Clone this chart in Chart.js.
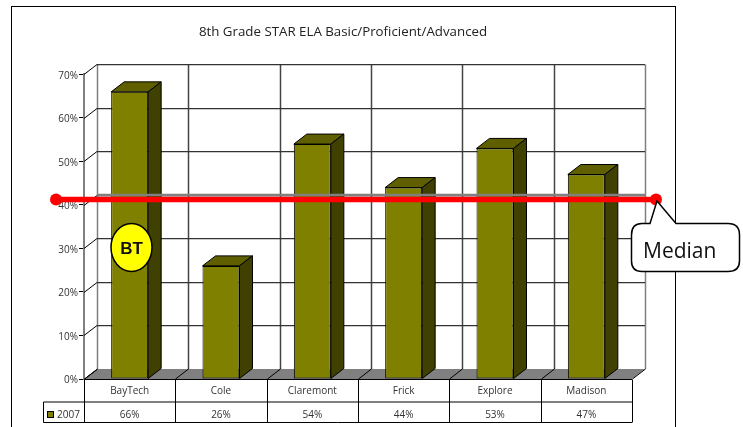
<!DOCTYPE html>
<html>
<head>
<meta charset="utf-8">
<title>8th Grade STAR ELA</title>
<script src="https://cdn.jsdelivr.net/npm/chart.js@4"></script>
<style>
  html, body { margin: 0; padding: 0; background: #ffffff; }
  canvas { display: block; }
</style>
</head>
<body>
<canvas id="starChart" width="743" height="427"></canvas>
<script>
const categories = ['BayTech', 'Cole', 'Claremont', 'Frick', 'Explore', 'Madison']
const seriesName = '2007'
const scores = [66, 26, 54, 44, 53, 47]
const yTicks = [0, 10, 20, 30, 40, 50, 60, 70]
const medianValue = 41.4
const chartTitle = '8th Grade STAR ELA Basic/Proficient/Advanced'
const font = '"Open Sans", sans-serif'

// how far the back wall sits behind the front plane
const depthX = 13
const depthY = 10

function line(ctx, x1, y1, x2, y2, color, width) {
    ctx.strokeStyle = color
    ctx.lineWidth = width
    ctx.beginPath()
    ctx.moveTo(x1, y1)
    ctx.lineTo(x2, y2)
    ctx.stroke()
}

function poly(ctx, points, fill, stroke) {
    ctx.beginPath()
    points.forEach((p, i) => i ? ctx.lineTo(p[0], p[1]) : ctx.moveTo(p[0], p[1]))
    ctx.closePath()
    ctx.fillStyle = fill
    ctx.fill()
    if (stroke) {
        ctx.strokeStyle = stroke
        ctx.lineWidth = 1
        ctx.stroke()
    }
}

// category boundaries on the front plane
function boundaries(chart) {
    const area = chart.chartArea
    const step = (area.right - area.left) / categories.length
    return categories.map((c, i) => area.left + step * i).concat(area.right)
}

const framePlugin = {
    id: 'frame',
    beforeDraw(chart) {
        const ctx = chart.ctx
        ctx.save()
        ctx.strokeStyle = '#000000'
        ctx.lineWidth = 1
        ctx.strokeRect(11.5, 6.5, 664, 440)
        ctx.restore()
    }
}

const wallsPlugin = {
    id: 'walls',
    beforeDatasetsDraw(chart) {
        const ctx = chart.ctx
        const area = chart.chartArea
        const y = chart.scales.y
        const base = Math.round(area.bottom)
        ctx.save()

        poly(ctx, [[area.left, base], [area.left + depthX, base - depthY],
            [area.right + depthX, base - depthY], [area.right, base]], '#808080')

        boundaries(chart).forEach((x, i) => {
            const bx = Math.round(x) + depthX + 0.5
            const grey = i === 0 || i === categories.length
            line(ctx, bx, y.getPixelForValue(70) - depthY, bx, base - depthY, grey ? '#808080' : '#444444', grey ? 1.5 : 1.5)
            line(ctx, Math.round(x) + 0.5, base, bx, base - depthY, '#000000', 1)
        })

        yTicks.forEach(v => {
            const py = Math.round(y.getPixelForValue(v))
            const back = py - depthY + 0.5
            line(ctx, area.left, py + 0.5, area.left + depthX, back, '#000000', 1)
            if (v > 0) line(ctx, area.left + depthX, back, area.right + depthX, back, '#333333', 1.25)
        })
        ctx.restore()
    },
    afterDatasetsDraw(chart) {
        const ctx = chart.ctx
        ctx.save()
        chart.getDatasetMeta(0).data.forEach(bar => {
            const half = bar.width / 2
            const l = bar.x - half
            const r = bar.x + half
            poly(ctx, [[l, bar.y], [l + depthX, bar.y - depthY], [r + depthX, bar.y - depthY], [r, bar.y]], '#5f5f00', '#000000')
            poly(ctx, [[r, bar.y], [r + depthX, bar.y - depthY], [r + depthX, bar.base - depthY], [r, bar.base]], '#404000', '#000000')
        })
        ctx.restore()
    }
}

const tablePlugin = {
    id: 'dataTable',
    afterDraw(chart) {
        const ctx = chart.ctx
        const area = chart.chartArea
        const top = Math.round(area.bottom) + 0.5
        const rowY = 402
        const bottom = 422.5
        const edges = boundaries(chart)
        ctx.save()

        line(ctx, area.left, top, area.right, top, '#000000', 1)
        line(ctx, 43.5, rowY, area.right, rowY, '#555555', 1.5)
        line(ctx, 43.5, bottom, area.right, bottom, '#000000', 1)
        line(ctx, 43.5, rowY, 43.5, bottom, '#000000', 1)
        edges.forEach(x => line(ctx, Math.round(x) + 0.5, top, Math.round(x) + 0.5, bottom, '#000000', 1))

        ctx.font = '10px ' + font
        ctx.fillStyle = '#333333'
        ctx.textAlign = 'center'
        ctx.textBaseline = 'middle'
        scores.forEach((v, i) => ctx.fillText(v + '%', (edges[i] + edges[i + 1]) / 2, 415))

        ctx.fillStyle = '#808000'
        ctx.strokeStyle = '#000000'
        ctx.lineWidth = 1
        ctx.fillRect(47.5, 411.5, 6, 6)
        ctx.strokeRect(47.5, 411.5, 6, 6)
        ctx.fillStyle = '#333333'
        ctx.textAlign = 'left'
        ctx.fillText(seriesName, 57, 415)
        ctx.restore()
    }
}

const notesPlugin = {
    id: 'notes',
    afterDraw(chart) {
        const ctx = chart.ctx
        const my = Math.round(chart.scales.y.getPixelForValue(medianValue))
        ctx.save()

        // median line and its end dots
        line(ctx, chart.chartArea.left + depthX, my - 4, chart.chartArea.right + depthX, my - 4, '#808080', 2.5)
        line(ctx, 56, my + 0.5, 656, my + 0.5, '#ff0000', 5.5)
        ctx.fillStyle = '#ff0000'
        ;[56, 656].forEach(x => {
            ctx.beginPath()
            ctx.arc(x, my + 0.5, 6, 0, Math.PI * 2)
            ctx.fill()
        })

        // callout
        ctx.beginPath()
        ctx.moveTo(650, 223.5)
        ctx.lineTo(657, my + 2)
        ctx.lineTo(676, 223.5)
        ctx.lineTo(728, 223.5)
        ctx.quadraticCurveTo(739.5, 223.5, 739.5, 235)
        ctx.lineTo(739.5, 261)
        ctx.quadraticCurveTo(739.5, 271.5, 728, 271.5)
        ctx.lineTo(642, 271.5)
        ctx.quadraticCurveTo(631.5, 271.5, 631.5, 261)
        ctx.lineTo(631.5, 235)
        ctx.quadraticCurveTo(631.5, 223.5, 642, 223.5)
        ctx.closePath()
        ctx.fillStyle = '#ffffff'
        ctx.fill()
        ctx.strokeStyle = '#000000'
        ctx.lineWidth = 1.5
        ctx.stroke()
        ctx.fillStyle = '#111111'
        ctx.font = '21px ' + font
        ctx.textAlign = 'left'
        ctx.textBaseline = 'alphabetic'
        ctx.fillText('Median', 643, 258)

        // BT marker
        ctx.beginPath()
        ctx.ellipse(131.5, 247.5, 20.5, 24, 0, 0, Math.PI * 2)
        ctx.fillStyle = '#ffff00'
        ctx.fill()
        ctx.lineWidth = 1.5
        ctx.stroke()
        ctx.fillStyle = '#111111'
        ctx.font = 'bold 17px "Liberation Sans", sans-serif'
        ctx.textAlign = 'center'
        ctx.textBaseline = 'middle'
        ctx.fillText('BT', 131.5, 249)
        ctx.restore()
    }
}

new Chart(document.getElementById('starChart').getContext('2d'), {
    type: 'bar',
    data: {
        labels: categories,
        datasets: [{
            label: seriesName,
            data: scores,
            backgroundColor: '#808000',
            borderColor: '#000000',
            borderWidth: 1,
            borderSkipped: false,
            barPercentage: 1,
            categoryPercentage: 0.405
        }]
    },
    options: {
        responsive: false,
        animation: false,
        layout: { padding: { left: 54, right: 111, top: 0, bottom: 0 } },
        plugins: {
            legend: { display: false },
            tooltip: { enabled: false },
            title: {
                display: true,
                text: chartTitle,
                color: '#222222',
                font: { family: font, size: 13.3, weight: 'normal' },
                padding: { top: 24.5, bottom: 34 }
            }
        },
        scales: {
            x: {
                grid: { display: false, tickLength: 0 },
                border: { display: false },
                ticks: { color: '#333333', font: { family: font, size: 10 }, padding: 6, maxRotation: 0 },
                afterFit(scale) { scale.height = 48 }
            },
            y: {
                min: 0,
                max: 70,
                afterBuildTicks(scale) { scale.ticks = yTicks.map(v => ({ value: v })) },
                grid: { drawOnChartArea: false, tickLength: 5, tickColor: '#000000' },
                border: { color: '#808080', width: 2 },
                ticks: { color: '#333333', font: { family: font, size: 10 }, padding: 1, labelOffset: 1.5, callback: v => v + '%' },
                afterFit(scale) { scale.width = 30 }
            }
        }
    },
    plugins: [framePlugin, wallsPlugin, tablePlugin, notesPlugin]
})
</script>
</body>
</html>
